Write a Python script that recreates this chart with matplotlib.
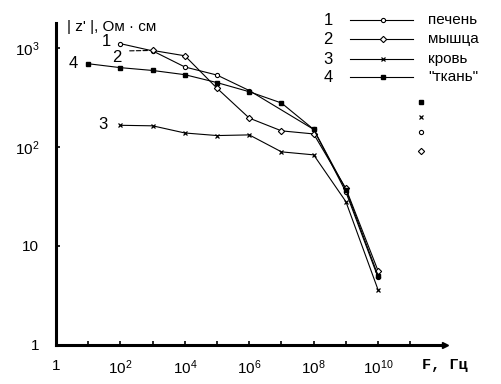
import matplotlib
matplotlib.use("Agg")
import matplotlib.pyplot as plt
from matplotlib.ticker import FixedLocator, NullFormatter

plt.rcParams["font.family"] = ["Liberation Sans", "DejaVu Sans"]
plt.rcParams["mathtext.fontset"] = "custom"
plt.rcParams["mathtext.rm"] = "Liberation Sans"
plt.rcParams["mathtext.it"] = "Liberation Sans"

# данные
f_liver = [1e2, 1e3, 1e4, 1e5, 1e6, 1e8, 1e9, 1e10]
z_liver = [1100, 930, 640, 530, 370, 150, 35, 4.8]

f_muscle = [1e3, 1e4, 1e5, 1e6, 1e7, 1e8, 1e9, 1e10]
z_muscle = [940, 830, 390, 195, 145, 135, 38, 5.6]

f_blood = [1e2, 1e3, 1e4, 1e5, 1e6, 1e7, 1e8, 1e9, 1e10]
z_blood = [165, 163, 138, 130, 132, 89, 83, 28, 3.6]

f_tissue = [10, 1e2, 1e3, 1e4, 1e5, 1e6, 1e7, 1e8, 1e9, 1e10]
z_tissue = [690, 630, 590, 535, 445, 360, 277, 150, 37, 5.0]

names = ["печень", "мышца", "кровь", "\"ткань\""]
x_ticks = [1, 1e2, 1e4, 1e6, 1e8, 1e10]
x_labels = ["1", "$10^{2}$", "$10^{4}$", "$10^{6}$", "$10^{8}$", "$10^{10}$"]
y_ticks = [1, 10, 100, 1000]
y_labels = ["1", "10", "$10^{2}$", "$10^{3}$"]

series = [
    (f_liver, z_liver, dict(marker="o", ms=3.0, mfc="white", mew=0.8)),
    (f_muscle, z_muscle, dict(marker="D", ms=3.2, mfc="white", mew=0.8)),
    (f_blood, z_blood, dict(marker="x", ms=3.2, mew=0.9)),
    (f_tissue, z_tissue, dict(marker="s", ms=2.2, mfc="black")),
]

fig = plt.figure(figsize=(5.02, 3.84), dpi=100)
ax = fig.add_axes([0.1116, 0.1016, 0.775, 0.8385])

for f, z, style in series:
    ax.plot(f, z, color="black", lw=0.8, mec="black", **style)

ax.set_xscale("log")
ax.set_yscale("log")
ax.set_xlim(1, 10 ** 12.08)
ax.set_ylim(1, 10 ** 3.25)

for side in ["top", "right"]:
    ax.spines[side].set_visible(False)
for side in ["left", "bottom"]:
    ax.spines[side].set_linewidth(2.2)

ax.xaxis.set_major_locator(FixedLocator(x_ticks))
ax.xaxis.set_minor_locator(FixedLocator([10 ** k for k in range(1, 12, 2)]))
ax.xaxis.set_minor_formatter(NullFormatter())
ax.set_xticklabels(x_labels)
ax.yaxis.set_major_locator(FixedLocator(y_ticks))
ax.yaxis.set_minor_locator(FixedLocator([]))
ax.set_yticklabels(y_labels)
ax.tick_params(axis="both", which="both", direction="in", length=3, width=1.2, labelsize=11)
ax.tick_params(axis="x", pad=10)
ax.tick_params(axis="y", pad=12)

# стрелка на оси частот
ax.plot(1, 0, ">k", ms=5, transform=ax.transAxes, clip_on=False)

ax.text(0.028, 0.988, "| z' |, Ом · см", transform=ax.transAxes, fontsize=11,
        ha="left", va="center")
ax.text(1.0, -0.04, "F, Гц", transform=ax.transAxes, fontsize=11,
        family="Liberation Mono", weight="bold", ha="center", va="top")

# номера кривых
ax.text(10 ** 1.55, 1170, "1", fontsize=12, ha="center", va="center")
ax.text(10 ** 1.9, 800, "2", fontsize=12, ha="center", va="center")
ax.text(10 ** 0.52, 690, "4", fontsize=12, ha="center", va="center")
ax.text(10 ** 1.45, 170, "3", fontsize=12, ha="center", va="center")
ax.annotate("", xy=(f_muscle[0], z_muscle[0]), xytext=(10 ** 2.2, 930),
            arrowprops=dict(arrowstyle="-", lw=0.8, linestyle=(0, (4, 2))))

# легенда
rows = [1.009, 0.950, 0.888, 0.832]
for i, ((f, z, style), name, y) in enumerate(zip(series, names, rows)):
    ax.text(0.699, y, str(i + 1), transform=ax.transAxes, fontsize=12,
            ha="center", va="center")
    ax.plot([0.756, 0.918], [y, y], color="black", lw=0.8,
            transform=ax.transAxes, clip_on=False)
    ax.plot([0.841], [y], color="black", mec="black", transform=ax.transAxes,
            clip_on=False, **style)
    ax.text(0.956, y, name, transform=ax.transAxes, fontsize=11,
            ha="left", va="center")

# отдельные значки справа
stray = [(3, 0.755), (2, 0.708), (0, 0.661), (1, 0.602)]
for idx, y in stray:
    style = dict(series[idx][2])
    ax.plot([0.938], [y], color="black", mec="black", transform=ax.transAxes,
            clip_on=False, **style)

fig.savefig("out.png", dpi=100)
